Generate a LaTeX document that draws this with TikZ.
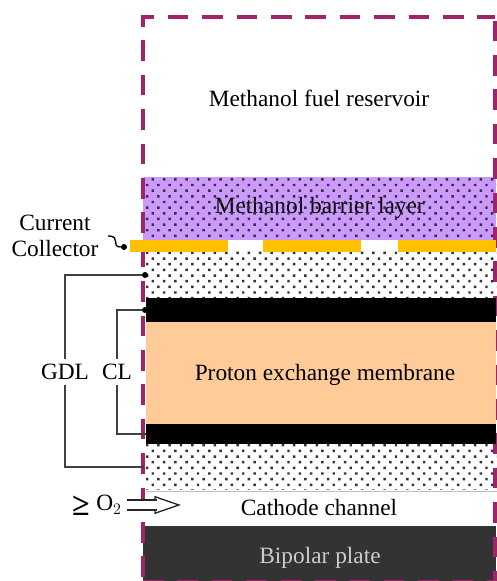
\documentclass[tikz,border=0pt]{standalone}
\usepackage{fontspec}
\setmainfont{Liberation Serif}
\usetikzlibrary{arrows.meta,patterns.meta}
\definecolor{cellborder}{HTML}{A0236B}
\definecolor{barrierfill}{HTML}{CC99FF}
\definecolor{membranefill}{HTML}{FFCC99}
\definecolor{collectorfill}{HTML}{FFC000}
\definecolor{platefill}{HTML}{333333}
\begin{document}
\begin{tikzpicture}[
x=0.75pt,y=0.75pt,
every node/.style={font=\fontsize{17.5pt}{20pt}\selectfont}
]

\tikzstyle{layer} = [shape=rectangle, anchor=south west, inner sep=0pt, minimum width=262.5pt]
\tikzstyle{dotted layer} = [pattern={Dots[radius=1.3pt,distance=6pt,angle=45]}, pattern color=black!80]
\tikzstyle{collector} = [shape=rectangle, anchor=south west, inner sep=0pt, fill=collectorfill, minimum height=9pt, minimum width=73.5pt]
\tikzstyle{cell} = [draw=cellborder, line width=2.3pt, dash pattern=on 15.5pt off 10.3pt]
\tikzstyle{lead} = [draw=black!75, line width=1pt]
\tikzstyle{tip} = [circle, fill=black, inner sep=0pt, minimum size=4.5pt]

\useasboundingbox (0,0) rectangle (496,581);

% layers under the outline
\node[layer, minimum width=264.75pt, minimum height=47.25pt, fill=barrierfill] (barrier) at (143,341) {Methanol barrier layer};
\fill[dotted layer] (barrier.south west) rectangle (barrier.north east);
\node[layer, minimum width=264.75pt, minimum height=41.25pt, fill=platefill] (plate) at (143,0) {};

% cell outline
\draw[cell, dash phase=22.8pt] (143,0) -- (143,564) -- (495,564);
\draw[cell, dash phase=23.1pt] (495,564) -- (495,0);
\draw[cell, line width=1pt] (143,0.4) -- (495,0.4);

% layers over the outline
\node[layer, minimum height=34.5pt] (gdltop) at (146,283) {};
\fill[dotted layer] (gdltop.south west) rectangle (gdltop.north east);
\node[layer, minimum height=18pt, fill=black] (cltop) at (146,259) {};
\node[layer, minimum height=76.5pt, fill=membranefill] (membrane) at (146,157) {};
\node[layer, minimum height=15pt, fill=black] (clbottom) at (146,137) {};
\node[layer, minimum height=34.5pt] (gdlbottom) at (146,91) {};
\fill[dotted layer] (gdlbottom.south west) rectangle (gdlbottom.north east);
\node[layer, minimum height=25.5pt] (channel) at (146,55) {};
\draw[black!25, line width=1pt] (channel.north west) -- (channel.north east);

\node[collector] (collectora) at (130,329) {};
\node[collector] (collectorb) at (263,329) {};
\node[collector] (collectorc) at (398,329) {};

% labels
\node (reservoir) at (319,483) {Methanol fuel reservoir};
\node (proton) at (325,206.5) {Proton exchange membrane};
\node (cathode) at (319,73) {Cathode channel};
\node[text=black!20] (bipolar) at (320,23.5) {Bipolar plate};
\node[align=center] (current) at (55,345) {Current\\Collector};
\node (gdl) at (65,209) {GDL};
\node (cl) at (117,209) {CL};
\node (oxygen) at (109,76) {O$_2$};
\node[font=\fontsize{24pt}{24pt}\bfseries\selectfont] (sense) at (81,75) {≥};

% leads
\coordinate (gdlend) at (144,114);
\coordinate (clend) at (146,147);
\node[tip] (gdltip) at (145,306) {};
\node[tip] (cltip) at (145,271) {};
\node[tip] (collectortip) at (124,334) {};
\coordinate (collectorstart) at (108,345);
\draw[lead] (gdltip) -| (gdl);
\draw[lead] (gdl) |- (gdlend);
\draw[lead] (cltip) -| (cl);
\draw[lead] (cl) |- (clend);
\draw[black, line width=1pt] (collectorstart) .. controls (122,345) and (110,334) .. (collectortip);

% oxygen inlet
\coordinate (inletstart) at (127,76);
\coordinate (inletneck) at (153,76);
\coordinate (inletshaft) at (157,76);
\coordinate (inletend) at (181,76);
\draw[black!85, line width=1pt, -{Triangle[open,length=20pt,width=13.5pt]}] (inletneck) -- (inletend);
\draw[black!85, line width=1pt, double, double distance=6.5pt] (inletstart) -- (inletshaft);
\end{tikzpicture}
\end{document}
